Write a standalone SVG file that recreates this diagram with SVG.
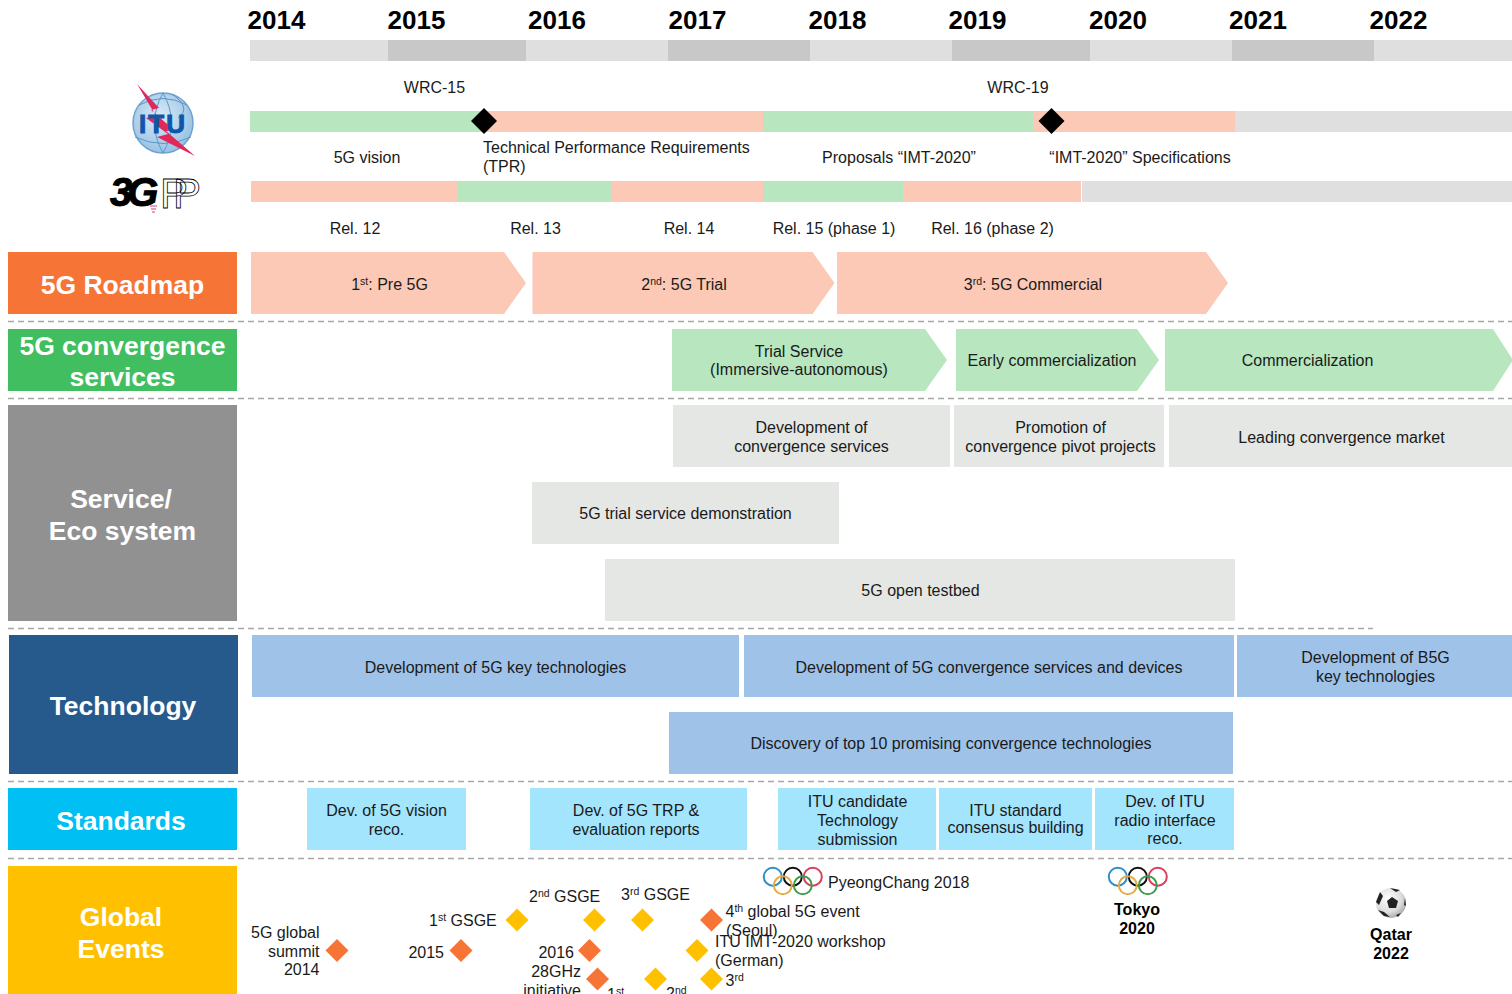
<svg xmlns="http://www.w3.org/2000/svg" width="1512" height="994" viewBox="0 0 1512 994">
<style>
text{font-family:"Liberation Sans",Arial,sans-serif;font-size:16px;fill:#1a1a1a}
.c{text-anchor:middle}.r{text-anchor:end}
.y{font-size:26px;font-weight:bold;fill:#000;text-anchor:middle}
.h{font-size:26.500px;font-weight:bold;fill:#fff;text-anchor:middle}
.b{font-weight:bold;fill:#000;text-anchor:middle}
.p{fill:#FBC9B5}.g{fill:#B7E6BF}.k{fill:#E5E7E4}.d{fill:#DFDFDF}.e{fill:#C8C8C8}
.s{fill:#9FC2E9}.t{fill:#A2E5FD}
.o{fill:#F77437}.u{fill:#FFC000}
.dash{stroke:#a6a6a6;stroke-width:1.5;stroke-dasharray:6 4;fill:none}
.ring{fill:none;stroke-width:2}
</style>
<defs>
<radialGradient id="ball" cx=".4" cy=".35" r=".75"><stop offset="0" stop-color="#fff"/><stop offset=".6" stop-color="#ddd"/><stop offset="1" stop-color="#999"/></radialGradient>
<radialGradient id="globe" cx=".45" cy=".4" r=".7"><stop offset="0" stop-color="#DCEBF7"/><stop offset="1" stop-color="#8DBBE0"/></radialGradient>
<g id="rings">
<circle class="ring" cx="0" cy="0" r="9" stroke="#2E8FC9"/>
<circle class="ring" cx="20" cy="0" r="9" stroke="#111"/>
<circle class="ring" cx="40" cy="0" r="9" stroke="#D9405E"/>
<circle class="ring" cx="10" cy="8.600" r="9" stroke="#E8A93F"/>
<circle class="ring" cx="30" cy="8.600" r="9" stroke="#3E9B4F"/>
</g>
<path id="dm" d="M0-11.500 11.500 0 0 11.500-11.500 0Z"/>
</defs>

<g id="timeline">
<rect class="d" x="250" y="40" width="138" height="21"/><rect class="e" x="388" y="40" width="138" height="21"/>
<rect class="d" x="526" y="40" width="142" height="21"/><rect class="e" x="668" y="40" width="142" height="21"/>
<rect class="d" x="810" y="40" width="142" height="21"/><rect class="e" x="952" y="40" width="138" height="21"/>
<rect class="d" x="1090" y="40" width="142" height="21"/><rect class="e" x="1232" y="40" width="142" height="21"/>
<rect class="d" x="1374" y="40" width="138" height="21"/>
<text class="y" x="276.500" y="29">2014</text><text class="y" x="416.500" y="29">2015</text><text class="y" x="557" y="29">2016</text>
<text class="y" x="697.500" y="29">2017</text><text class="y" x="837.500" y="29">2018</text><text class="y" x="977.500" y="29">2019</text>
<text class="y" x="1118" y="29">2020</text><text class="y" x="1258" y="29">2021</text><text class="y" x="1398.500" y="29">2022</text>
</g>

<g id="itu-logo">
<circle cx="163" cy="123" r="30" fill="url(#globe)" stroke="#6FA3D0" stroke-width="1.500"/>
<path d="M139 105Q163 92 187 105M135 137Q163 150 191 137M163 93Q146 123 163 153M163 93Q180 123 163 153M172 94Q192 108 178 118" fill="none" stroke="#5A97CC" stroke-width="1"/>
<path d="M137 84 159 108 151 110 174 130 166 131 195 156 157 137 168 134 146 118 156 116Z" fill="#E0285A"/>
<text x="163" y="133" class="c" style="font-size:26px;font-weight:bold;fill:#0F57A8;stroke:#0F57A8;stroke-width:1;letter-spacing:2px">ITU</text>
</g>
<g id="gpp-logo">
<text x="110" y="206" style="font-size:40px;font-weight:bold;font-style:italic;fill:#000;letter-spacing:-5px;stroke:#000;stroke-width:1">3G</text>
<text x="160" y="208" style="font-family:'Liberation Sans',sans-serif;font-size:42px;fill:#fff;stroke:#000;stroke-width:.8;letter-spacing:-15px">PP</text>
<path d="M150 206h7M151 209h5M152 212h3" stroke="#D9405E" stroke-width="1"/>
</g>

<g id="itu-row">
<rect class="g" x="250" y="111" width="229" height="21"/><rect class="p" x="479" y="111" width="284" height="21"/>
<rect class="g" x="763" y="111" width="270" height="21"/><rect class="p" x="1033" y="111" width="202" height="21"/>
<rect class="d" x="1235" y="111" width="277" height="21"/>
<path d="M484 108 497 121 484 134 471 121Z" fill="#000"/><path d="M1051.500 108 1064.500 121 1051.500 134 1038.500 121Z" fill="#000"/>
<text class="c" x="434.500" y="93">WRC-15</text><text class="c" x="1018" y="93">WRC-19</text>
<text class="c" x="367" y="163">5G vision</text>
<text x="483" y="153">Technical Performance Requirements</text><text x="483" y="172">(TPR)</text>
<text class="c" x="899" y="163">Proposals “IMT-2020”</text><text class="c" x="1140" y="163">“IMT-2020” Specifications</text>
</g>
<g id="gpp-row">
<rect class="p" x="251" y="181" width="206" height="21"/><rect class="g" x="457" y="181" width="155" height="21"/>
<rect class="p" x="612" y="181" width="151" height="21"/><rect class="g" x="763" y="181" width="140" height="21"/>
<rect class="p" x="903" y="181" width="178" height="21"/><rect class="d" x="1082" y="181" width="430" height="21"/>
<text class="c" x="355" y="234">Rel. 12</text><text class="c" x="535.500" y="234">Rel. 13</text><text class="c" x="689" y="234">Rel. 14</text>
<text class="c" x="834" y="234">Rel. 15 (phase 1)</text><text class="c" x="992.500" y="234">Rel. 16 (phase 2)</text>
</g>

<g id="connectors">
<path class="dash" d="M8 321.500H1512M8 398.500H1512M8 628.500H1373M8 781.500H1512M8 858.500H1512"/>
</g>

<g id="roadmap"><rect class="o" x="8" y="252" width="229" height="62"/><text class="h" x="122.500" y="294">5G Roadmap</text></g>
<g id="pre5g"><path class="p" d="M251 252H504L526 283 504 314H251Z"/><text class="c" x="389.500" y="290">1<tspan dy="-5" font-size="10.500">st</tspan><tspan dy="5">: Pre 5G</tspan></text></g>
<g id="trial"><path class="p" d="M532.500 252H812.500L834.500 283 812.500 314H532.500Z"/><text class="c" x="684" y="290">2<tspan dy="-5" font-size="10.500">nd</tspan><tspan dy="5">: 5G Trial</tspan></text></g>
<g id="commercial"><path class="p" d="M837 252H1206L1228 283 1206 314H837Z"/><text class="c" x="1033" y="290">3<tspan dy="-5" font-size="10.500">rd</tspan><tspan dy="5">: 5G Commercial</tspan></text></g>

<g id="convergence"><rect x="8" y="329" width="229" height="62" fill="#41BE5F"/><text class="h" x="122.500" y="355">5G convergence</text><text class="h" x="122.500" y="386">services</text></g>
<g id="trial-service"><path class="g" d="M672 329H925L947 360 925 391H672Z"/><text class="c" x="799" y="357">Trial Service</text><text class="c" x="799" y="375">(Immersive-autonomous)</text></g>
<g id="early"><path class="g" d="M956 329H1137L1159 360 1137 391H956Z"/><text class="c" x="1052" y="366">Early commercialization</text></g>
<g id="commercialization"><path class="g" d="M1165 329H1493L1513 360 1493 391H1165Z"/><text class="c" x="1307.500" y="366">Commercialization</text></g>

<g id="service"><rect x="8" y="405" width="229" height="216" fill="#919191"/><text class="h" x="121" y="508">Service/</text><text class="h" x="122.500" y="540">Eco system</text></g>
<g id="dev-conv"><rect class="k" x="673" y="405" width="277" height="62"/><text class="c" x="811.500" y="433">Development of</text><text class="c" x="811.500" y="452">convergence services</text></g>
<g id="promotion"><rect class="k" x="954" y="405" width="210" height="62"/><text class="c" x="1060.500" y="433">Promotion of</text><text class="c" x="1060.500" y="452">convergence pivot projects</text></g>
<g id="leading"><rect class="k" x="1169" y="405" width="343" height="62"/><text class="c" x="1341.500" y="443">Leading convergence market</text></g>
<g id="trial-demo"><rect class="k" x="532" y="482" width="307" height="62"/><text class="c" x="685.500" y="519">5G trial service demonstration</text></g>
<g id="testbed"><rect class="k" x="605" y="559" width="630" height="62"/><text class="c" x="920.500" y="596">5G open testbed</text></g>

<g id="technology"><rect x="9" y="635" width="229" height="139" fill="#265A8D"/><text class="h" x="123" y="715">Technology</text></g>
<g id="dev-key"><rect class="s" x="252" y="635" width="487" height="62"/><text class="c" x="495.500" y="673">Development of 5G key technologies</text></g>
<g id="dev-devices"><rect class="s" x="744" y="635" width="490" height="62"/><text class="c" x="989" y="673">Development of 5G convergence services and devices</text></g>
<g id="dev-b5g"><rect class="s" x="1237" y="635" width="275" height="62"/><text class="c" x="1375.500" y="663">Development of B5G</text><text class="c" x="1375.500" y="682">key technologies</text></g>
<g id="discovery"><rect class="s" x="669" y="712" width="564" height="62"/><text class="c" x="951" y="749">Discovery of top 10 promising convergence technologies</text></g>

<g id="standards"><rect x="8" y="788" width="229" height="62" fill="#00BFF3"/><text class="h" x="121" y="830">Standards</text></g>
<g id="std-vision"><rect class="t" x="307" y="788" width="159" height="62"/><text class="c" x="386.500" y="816">Dev. of 5G vision</text><text class="c" x="386.500" y="835">reco.</text></g>
<g id="std-trp"><rect class="t" x="530" y="788" width="217" height="62"/><text class="c" x="636" y="816">Dev. of 5G TRP &amp;</text><text class="c" x="636" y="835">evaluation reports</text></g>
<g id="std-cand"><rect class="t" x="778" y="788" width="158" height="62"/><text class="c" x="857.500" y="807">ITU candidate</text><text class="c" x="857.500" y="826">Technology</text><text class="c" x="857.500" y="845">submission</text></g>
<g id="std-cons"><rect class="t" x="939" y="788" width="153" height="62"/><text class="c" x="1015.500" y="816">ITU standard</text><text class="c" x="1015.500" y="833">consensus building</text></g>
<g id="std-radio"><rect class="t" x="1095" y="788" width="139" height="62"/><text class="c" x="1165" y="807">Dev. of ITU</text><text class="c" x="1165" y="826">radio interface</text><text class="c" x="1165" y="844">reco.</text></g>

<g id="events"><rect class="u" x="8" y="866" width="229" height="128"/><text class="h" x="121" y="926">Global</text><text class="h" x="121" y="958">Events</text></g>
<g id="event-markers">
<use href="#dm" class="o" x="337" y="950.500"/><use href="#dm" class="o" x="461" y="950.500"/><use href="#dm" class="o" x="589.500" y="950.500"/>
<use href="#dm" class="o" x="597.500" y="979"/><use href="#dm" class="o" x="711.500" y="920"/>
<use href="#dm" class="u" x="517" y="920"/><use href="#dm" class="u" x="594.500" y="920"/><use href="#dm" class="u" x="642.500" y="920"/>
<use href="#dm" class="u" x="697" y="950.500"/><use href="#dm" class="u" x="655.500" y="979"/><use href="#dm" class="u" x="711.500" y="979"/>
</g>
<g id="event-labels">
<text class="r" x="319.500" y="938">5G global</text><text class="r" x="319.500" y="957">summit</text><text class="r" x="319.500" y="975">2014</text>
<text class="r" x="444" y="958">2015</text><text class="r" x="574" y="958">2016</text>
<text class="r" x="581" y="977">28GHz</text><text class="r" x="581" y="996">initiative</text>
<text x="429" y="926">1<tspan dy="-5" font-size="10.500">st</tspan><tspan dy="5"> GSGE</tspan></text>
<text x="529" y="902">2<tspan dy="-5" font-size="10.500">nd</tspan><tspan dy="5"> GSGE</tspan></text>
<text x="621" y="900">3<tspan dy="-5" font-size="10.500">rd</tspan><tspan dy="5"> GSGE</tspan></text>
<text x="725.500" y="917">4<tspan dy="-5" font-size="10.500">th</tspan><tspan dy="5"> global 5G event</tspan></text><text x="726" y="936">(Seoul)</text>
<text x="715" y="947">ITU IMT-2020 workshop</text><text x="715" y="966">(German)</text>
<text x="607" y="1000">1<tspan dy="-5" font-size="10.500">st</tspan></text>
<text x="666" y="999">2<tspan dy="-5" font-size="10.500">nd</tspan></text>
<text x="725.500" y="986">3<tspan dy="-5" font-size="10.500">rd</tspan></text>
</g>
<g id="pyeongchang"><use href="#rings" x="772.800" y="876.700"/><text x="828" y="888">PyeongChang 2018</text></g>
<g id="tokyo"><use href="#rings" x="1117.800" y="876.700"/><text class="b" x="1137" y="915">Tokyo</text><text class="b" x="1137" y="934">2020</text></g>
<g id="qatar">
<circle cx="1391" cy="903" r="15" fill="url(#ball)"/>
<path d="M1392 897 1398 901 1396 908 1389 908 1387 901Z" fill="#222"/>
<path d="M1380 892 1376 902 1379 905 1383 896ZM1390 888 1400 890 1396 892ZM1378 910 1384 916 1390 917 1384 912ZM1405 898 1406 906 1404 905ZM1396 915 1401 913 1398 917Z" fill="#222"/>
<text class="b" x="1391" y="940">Qatar</text><text class="b" x="1391" y="959">2022</text>
</g>
</svg>
